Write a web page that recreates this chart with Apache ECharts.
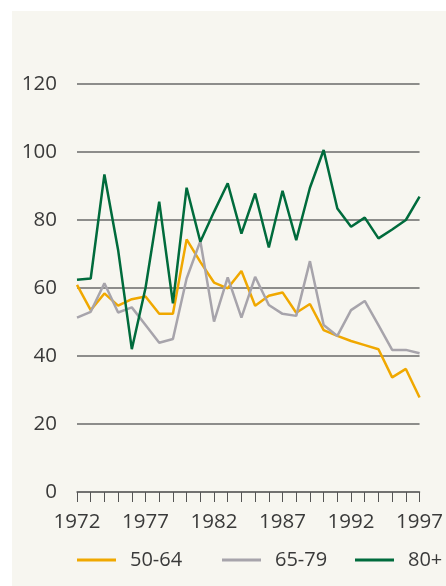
<!DOCTYPE html>
<html><head><meta charset="utf-8">
<script src="https://cdn.jsdelivr.net/npm/echarts@6/dist/echarts.min.js"></script>
<style>
html,body{margin:0;padding:0;background:#fff;}
#panel{position:absolute;left:12px;top:11px;width:434px;height:575px;background:#f7f6f0;}
#chart{width:434px;height:575px;}
</style></head>
<body>
<div id="panel"><div id="chart"></div></div>
<script>
const years = ['1972','1973','1974','1975','1976','1977','1978','1979','1980','1981','1982','1983','1984','1985','1986','1987','1988','1989','1990','1991','1992','1993','1994','1995','1996','1997'];
const s5064 = [60.9,53.5,58.4,54.8,56.7,57.5,52.4,52.4,74.3,67.7,61.6,59.9,65.0,54.8,57.7,58.7,52.7,55.3,47.6,45.9,44.4,43.2,42.0,33.7,36.2,27.8];
const s6579 = [51.3,53.0,61.4,52.8,54.3,49.1,43.9,45.0,62.8,73.8,50.1,63.1,51.3,63.3,55.0,52.4,51.8,67.9,49.1,45.9,53.5,56.2,49.1,41.8,41.8,40.8];
const s80 = [62.4,62.8,93.4,71.2,42.0,60.0,85.4,55.5,89.5,73.6,82.4,90.8,76.0,87.8,71.9,88.6,74.1,89.5,100.6,83.4,78.0,80.7,74.6,77.2,80.0,86.9];
const seriesNames = ['50-64','65-79','80+'];
const colors = ['#f0a800','#a7a4ab','#006b3c'];
const yTicks = {min:0,max:120,interval:20};

const font = "'Open Sans', 'DejaVu Sans', sans-serif";
const chart = echarts.init(document.getElementById('chart'));
const data = [s5064, s6579, s80];
const legendLefts = [65, 210, 343];
chart.setOption({
  animation:false,
  backgroundColor:'transparent',
  grid:{left:65,right:26,top:73,bottom:94},
  legend: seriesNames.map((n,i)=>({
    left:legendLefts[i], top:539, padding:0, itemWidth:39, itemHeight:3, icon:'rect',
    data:[n],
    textStyle:{fontFamily:font, fontWeight:'normal', fontSize:20, color:'#3a3a3a', padding:[0,0,0,9]}
  })),
  xAxis:{
    type:'category', data:years, boundaryGap:false,
    axisLine:{show:true, lineStyle:{color:'#6a6a6a', width:1.5}},
    axisTick:{show:true, interval:0, length:10, lineStyle:{color:'#555', width:1}},
    axisLabel:{interval:4, margin:20, fontFamily:font, fontWeight:'normal', fontSize:20.5, color:'#3a3a3a'},
    splitLine:{show:false}
  },
  yAxis:{
    type:'value', min:yTicks.min, max:yTicks.max, interval:yTicks.interval,
    axisLine:{show:false}, axisTick:{show:false},
    axisLabel:{margin:20, fontFamily:font, fontWeight:'normal', fontSize:20.5, color:'#3a3a3a'},
    splitLine:{lineStyle:{color:'#6a6a6a', width:1.5}}
  },
  series: seriesNames.map((n,i)=>({
    name:n, type:'line', data:data[i], symbol:'none',
    lineStyle:{color:colors[i], width:2.5}, itemStyle:{color:colors[i]}
  }))
});
</script>
</body></html>
